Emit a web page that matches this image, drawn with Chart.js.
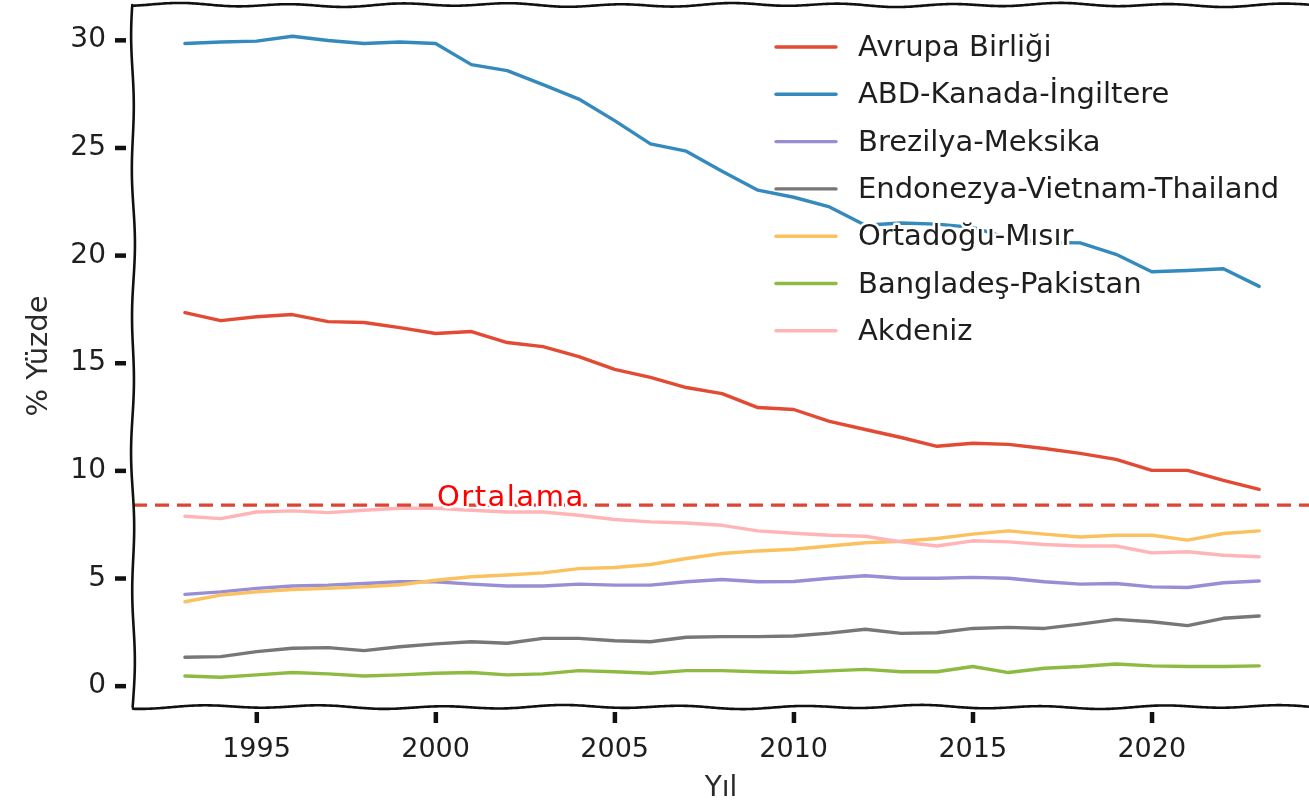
<!DOCTYPE html>
<html><head><meta charset="utf-8">
<script src="https://cdn.jsdelivr.net/npm/chart.js@4"></script>
<style>html,body{margin:0;padding:0;background:#fff;overflow:hidden}</style>
</head><body>
<canvas id="c" width="1309" height="809"></canvas>
<script>
const years = [1993,1994,1995,1996,1997,1998,1999,2000,2001,2002,2003,2004,2005,2006,2007,2008,2009,2010,2011,2012,2013,2014,2015,2016,2017,2018,2019,2020,2021,2022,2023];
const seriesNames = ['Avrupa Birliği','ABD-Kanada-İngiltere','Brezilya-Meksika','Endonezya-Vietnam-Thailand','Ortadoğu-Mısır','Bangladeş-Pakistan','Akdeniz'];
const avrupaBirligi = [17.34,16.97,17.15,17.25,16.92,16.88,16.64,16.37,16.46,15.95,15.76,15.3,14.7,14.33,13.86,13.58,12.93,12.84,12.29,11.91,11.54,11.13,11.27,11.22,11.03,10.8,10.52,10.01,10.01,9.55,9.13];
const abdKanadaIngiltere = [29.84,29.91,29.95,30.18,29.98,29.84,29.91,29.84,28.86,28.58,27.93,27.26,26.26,25.18,24.84,23.91,23.03,22.7,22.25,21.4,21.5,21.45,21.3,20.8,20.6,20.58,20.05,19.24,19.3,19.38,18.56];
const brezilyaMeksika = [4.25,4.37,4.53,4.64,4.68,4.76,4.84,4.84,4.73,4.64,4.64,4.73,4.68,4.68,4.84,4.94,4.84,4.85,5.0,5.12,5.0,5.0,5.04,5.0,4.84,4.73,4.76,4.6,4.57,4.79,4.87];
const endonezyaVietnamThailand = [1.33,1.36,1.59,1.75,1.78,1.64,1.82,1.95,2.05,1.98,2.21,2.21,2.1,2.05,2.26,2.29,2.29,2.32,2.45,2.63,2.44,2.47,2.67,2.72,2.67,2.87,3.09,2.98,2.8,3.14,3.25];
const ortadoguMisir = [3.91,4.22,4.37,4.48,4.53,4.6,4.7,4.91,5.07,5.15,5.25,5.45,5.5,5.64,5.92,6.15,6.27,6.35,6.5,6.65,6.72,6.85,7.05,7.2,7.05,6.92,7.0,7.0,6.77,7.08,7.2];
const bangladesPakistan = [0.46,0.4,0.51,0.62,0.56,0.46,0.51,0.59,0.62,0.51,0.56,0.71,0.66,0.59,0.71,0.71,0.66,0.62,0.7,0.77,0.66,0.66,0.9,0.62,0.82,0.9,1.02,0.93,0.9,0.9,0.93];
const akdeniz = [7.88,7.77,8.08,8.13,8.05,8.16,8.25,8.25,8.16,8.08,8.08,7.93,7.73,7.62,7.57,7.46,7.2,7.09,7.0,6.95,6.69,6.5,6.74,6.69,6.57,6.5,6.5,6.18,6.23,6.07,6.0];
const ortalamaValue = 8.4;
const ortalamaLabel = 'Ortalama';
const ortalamaLabelYear = 2002.1;
const xTickValues = [1995,2000,2005,2010,2015,2020];
const yTickValues = [0,5,10,15,20,25,30];
const X_MIN = 1991.55, X_MAX = 2024.39, Y_MIN = -0.98, Y_MAX = 31.63;

const allSeries = [avrupaBirligi, abdKanadaIngiltere, brezilyaMeksika, endonezyaVietnamThailand, ortadoguMisir, bangladesPakistan, akdeniz];
const colors = ['#E24A33','#348ABD','#988ED5','#777777','#FBC15E','#8EBA42','#FFB5B8'];
const FONT = '"DejaVu Sans", sans-serif';

const datasets = allSeries.map((arr, i) => ({
  label: seriesNames[i],
  data: arr.map((v, k) => ({x: years[k], y: v})),
  borderColor: colors[i], backgroundColor: colors[i],
  borderWidth: 3.4, pointRadius: 0, tension: 0, order: -i,
  borderCapStyle: 'round', borderJoinStyle: 'round'
}));
datasets.push({
  label: ortalamaLabel,
  data: [{x: X_MIN, y: ortalamaValue}, {x: X_MAX, y: ortalamaValue}],
  borderColor: '#DD4433', borderWidth: 3.4, borderDash: [14, 8], pointRadius: 0, order: -20
});

function wavyLine(ctx, x1, y1, x2, y2, amp, period, phase) {
  const len = Math.hypot(x2 - x1, y2 - y1);
  const ux = (x2 - x1) / len, uy = (y2 - y1) / len;
  const nx = -uy, ny = ux;
  ctx.beginPath();
  for (let s = 0; s <= len; s += 2) {
    const o = amp * Math.sin(2 * Math.PI * s / period + phase) + 0.5 * amp * Math.sin(2 * Math.PI * s / (period * 2.7) + phase * 2);
    const px = x1 + ux * s + nx * o, py = y1 + uy * s + ny * o;
    if (s === 0) ctx.moveTo(px, py); else ctx.lineTo(px, py);
  }
  ctx.stroke();
}

const decor = {
  id: 'decor',
  afterDatasetsDraw(chart) {
    const ctx = chart.ctx;
    const a = chart.chartArea;
    const xs = chart.scales.x, ys = chart.scales.y;
    ctx.save();
    ctx.font = '29px ' + FONT;
    try { ctx.letterSpacing = '1.5px'; } catch (e) {}
    ctx.textAlign = 'center';
    ctx.textBaseline = 'alphabetic';
    const lx = xs.getPixelForValue(ortalamaLabelYear), ly = ys.getPixelForValue(ortalamaValue) + 1;
    ctx.lineJoin = 'round';
    ctx.strokeStyle = '#fff'; ctx.lineWidth = 5;
    ctx.strokeText(ortalamaLabel, lx, ly);
    ctx.fillStyle = '#FF0000';
    ctx.fillText(ortalamaLabel, lx, ly);
    try { ctx.letterSpacing = '0px'; } catch (e) {}
    ctx.font = '29px ' + FONT;
    ctx.textAlign = 'left';
    for (let i = 0; i < seriesNames.length; i++) {
      const ry = 47 + i * 47.3;
      ctx.strokeStyle = colors[i]; ctx.lineWidth = 3.4; ctx.lineCap = 'round';
      ctx.beginPath(); ctx.moveTo(776, ry); ctx.lineTo(836, ry); ctx.stroke();
      ctx.strokeStyle = '#fff'; ctx.lineWidth = 5;
      ctx.strokeText(seriesNames[i], 858, ry + 9);
      ctx.fillStyle = '#1e1e1e';
      ctx.fillText(seriesNames[i], 858, ry + 9);
    }
    ctx.strokeStyle = '#111'; ctx.lineWidth = 2.6; ctx.lineCap = 'round';
    wavyLine(ctx, a.left, a.top, a.left, a.bottom, 1.3, 140, 0.3);
    wavyLine(ctx, a.left, a.bottom, a.right, a.bottom, 1.4, 120, 1.1);
    wavyLine(ctx, a.left, a.top, a.right, a.top, 1.4, 110, 2.0);
    ctx.fillStyle = '#111';
    yTickValues.forEach(v => { const py = ys.getPixelForValue(v); ctx.fillRect(a.left - 18, py - 2, 11, 4.5); });
    xTickValues.forEach(v => { const px = xs.getPixelForValue(v); ctx.fillRect(px - 2, a.bottom + 5, 4.5, 11); });
    ctx.restore();
  }
};

function noPad(s) { s.paddingTop = 0; s.paddingBottom = 0; s.paddingLeft = 0; s.paddingRight = 0; }

new Chart(document.getElementById('c'), {
  type: 'line',
  data: {datasets},
  plugins: [decor],
  options: {
    responsive: false, animation: false, devicePixelRatio: 1,
    layout: {padding: {top: 5, left: 0, right: 0, bottom: 0}},
    plugins: {legend: {display: false}, tooltip: {enabled: false}},
    scales: {
      x: {
        type: 'linear', min: X_MIN, max: X_MAX,
        afterBuildTicks: s => { s.ticks = xTickValues.map(v => ({value: v})); },
        ticks: {callback: v => String(v), font: {family: FONT, size: 27}, color: '#1e1e1e', padding: 27, maxRotation: 0, autoSkip: false, includeBounds: false},
        grid: {display: false, drawTicks: false}, border: {display: false},
        title: {display: true, text: 'Yıl', font: {family: FONT, size: 28}, color: '#2a2a2a', padding: {top: 0, bottom: 3}},
        afterFit: s => { s.height = 102; noPad(s); }
      },
      y: {
        type: 'linear', min: Y_MIN, max: Y_MAX,
        afterBuildTicks: s => { s.ticks = yTickValues.map(v => ({value: v})); },
        ticks: {callback: v => String(v), font: {family: FONT, size: 28}, color: '#1e1e1e', padding: 27, includeBounds: false},
        grid: {display: false, drawTicks: false}, border: {display: false},
        title: {display: true, text: '% Yüzde', font: {family: FONT, size: 29}, color: '#2a2a2a', padding: {top: 22, bottom: 0}},
        afterFit: s => { s.width = 133; noPad(s); }
      }
    }
  }
});
</script>
</body></html>
